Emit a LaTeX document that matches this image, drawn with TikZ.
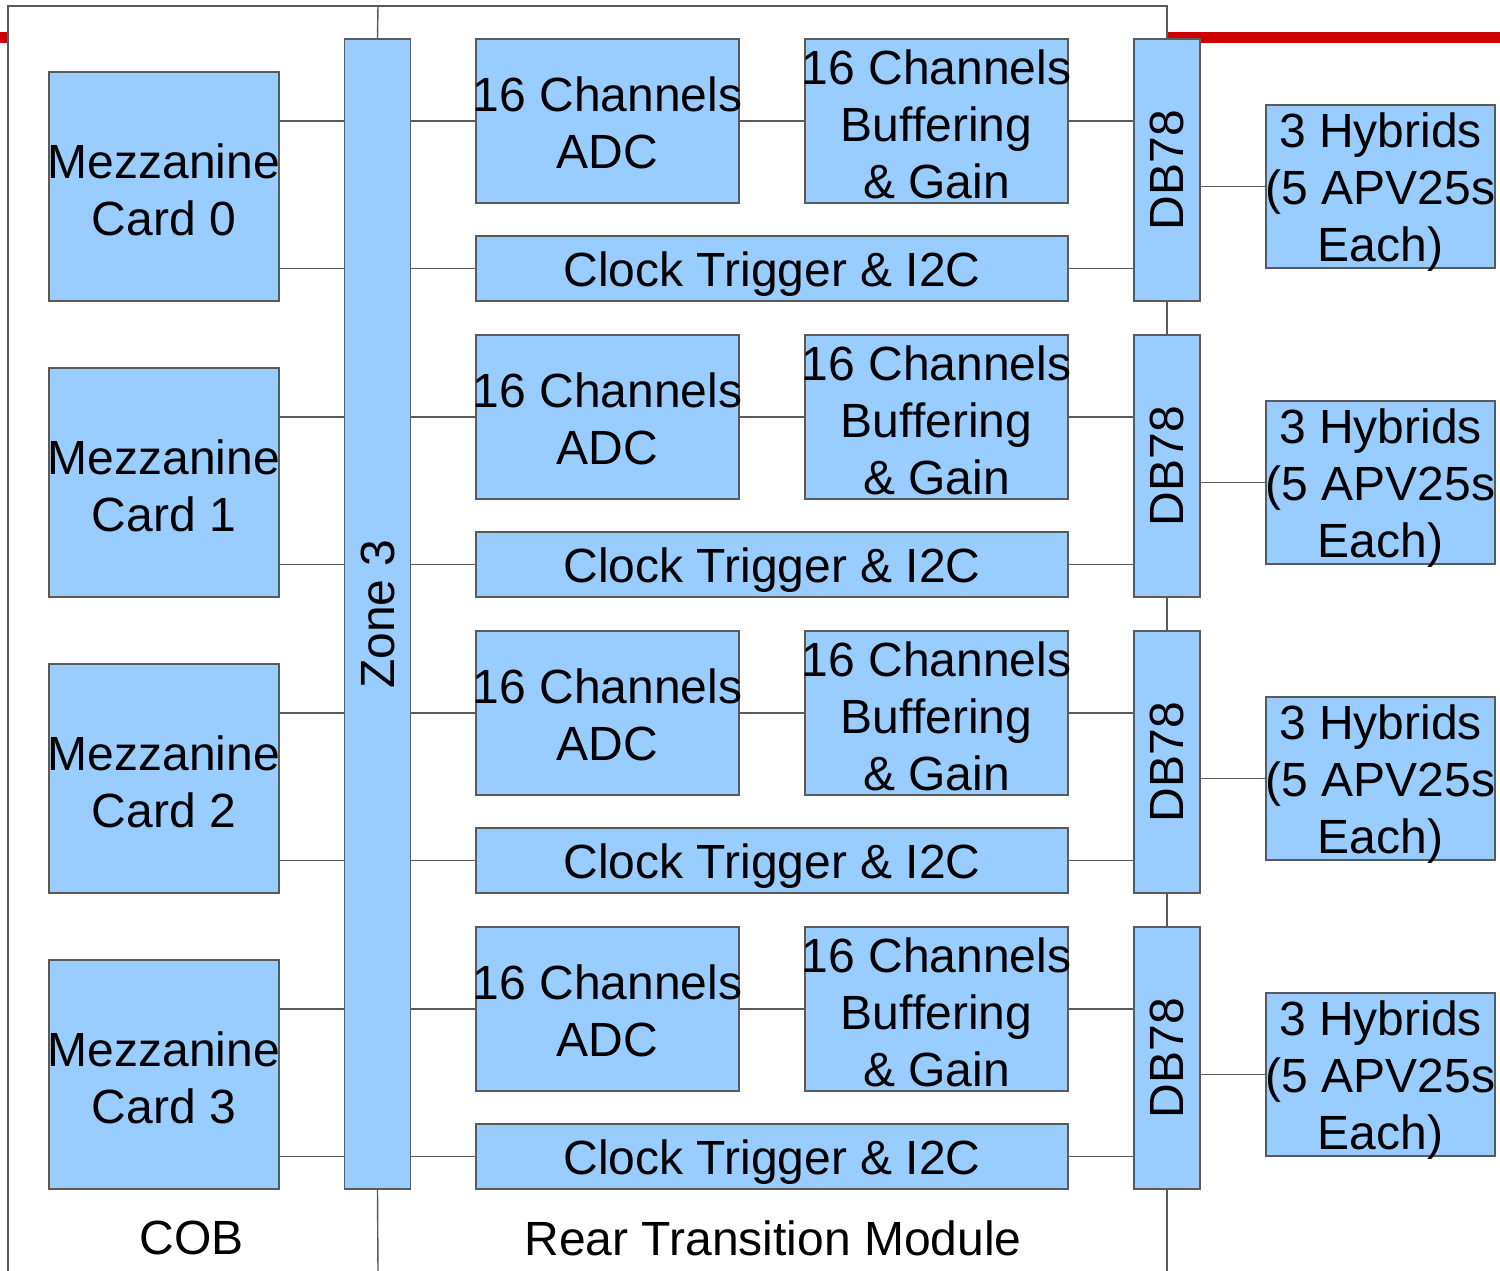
\documentclass[tikz,border=0pt]{standalone}
\usepackage{fontspec}
\setmainfont{Liberation Sans}
\definecolor{boxblue}{HTML}{99CCFF}
\definecolor{edgegray}{HTML}{5A5A5A}
\definecolor{barred}{HTML}{CC0000}
\newcommand\dgfont{\fontsize{48}{57}\selectfont}
\begin{document}
\begin{tikzpicture}[x=1pt,y=-1pt,
  blk/.style={draw=edgegray,fill=boxblue,line width=1.4pt,inner sep=0pt,align=center,font=\dgfont},
  txt/.style={inner sep=0pt,align=center,font=\dgfont},
  wire/.style={draw=edgegray,line width=1.4pt},
  redbar/.style={draw=barred,line width=11pt},
  lbl/.style={inner sep=0pt,font=\dgfont}]
\useasboundingbox[fill=white] (0,0) rectangle (1500,1271);
% red bar
\coordinate (r0) at (0,37.5);
\coordinate (r1) at (8,37.5);
\coordinate (r2) at (1167,37.5);
\coordinate (r3) at (1500,37.5);
\draw[redbar] (r0) -- (r1);
\draw[redbar] (r2) -- (r3);
% frame coordinates
\coordinate (tl) at (8,6);
\coordinate (bl) at (8,1271);
\coordinate (tm) at (378,6);
\coordinate (bm) at (378,1271);
\coordinate (tr) at (1167,6);
\coordinate (br) at (1167,1271);
% zone 3
\node[blk,minimum width=66,minimum height=1150] (zone) at (377.5,614) {\rotatebox{90}{Zone 3}};
\foreach \k in {0,1,2,3}{
  \pgfmathsetmacro{\dy}{296*\k}
  \node[blk,minimum width=230,minimum height=229,
        label={[txt,yshift=-3pt]center:{Mezzanine\\Card \k}}] (mz\k) at (164,186.5+\dy) {};
  \node[blk,minimum width=263,minimum height=164,
        label={[txt,yshift=-2pt]center:{16 Channels\\ADC}}] (adc\k) at (607.5,121+\dy) {};
  \node[blk,minimum width=263,minimum height=164,
        label={[txt,yshift=-3pt]center:{16 Channels\\Buffering\\\& Gain}}] (buf\k) at (936.5,121+\dy) {};
  \node[blk,minimum width=592,minimum height=65,
        label={[txt,yshift=-6pt]center:{Clock Trigger \& I2C}}] (clk\k) at (772,268.5+\dy) {};
  \node[blk,minimum width=66,minimum height=262] (db\k) at (1167,170+\dy) {\rotatebox{90}{DB78}};
  \node[blk,minimum width=229,minimum height=163,
        label={[txt,yshift=-6pt]center:{3 Hybrids\\(5 APV25s\\Each)}}] (hy\k) at (1380.5,186.5+\dy) {};
  \draw[wire] (mz\k.east |- adc\k.west) -- (zone.west |- adc\k.west);
  \draw[wire] (mz\k.east |- clk\k.west) -- (zone.west |- clk\k.west);
  \draw[wire] (zone.east |- adc\k.west) -- (adc\k.west);
  \draw[wire] (zone.east |- clk\k.west) -- (clk\k.west);
  \draw[wire] (adc\k.east) -- (buf\k.west);
  \draw[wire] (buf\k.east) -- (db\k.west |- buf\k.east);
  \draw[wire] (clk\k.east) -- (db\k.west |- clk\k.east);
  \draw[wire] (db\k.east |- hy\k.west) -- (hy\k.west);
}
% frame lines
\draw[wire] (bl) -- (tl) -- (tr) -- (db0.north);
\draw[wire] (tm) -- (zone.north);
\draw[wire] (zone.south) -- (bm);
\draw[wire] (db0.south) -- (db1.north);
\draw[wire] (db1.south) -- (db2.north);
\draw[wire] (db2.south) -- (db3.north);
\draw[wire] (db3.south) -- (br);
% labels
\node[lbl] (cob) at (192,1238) {COB};
\node[lbl] (rtm) at (773,1238) {Rear Transition Module};
\end{tikzpicture}
\end{document}
